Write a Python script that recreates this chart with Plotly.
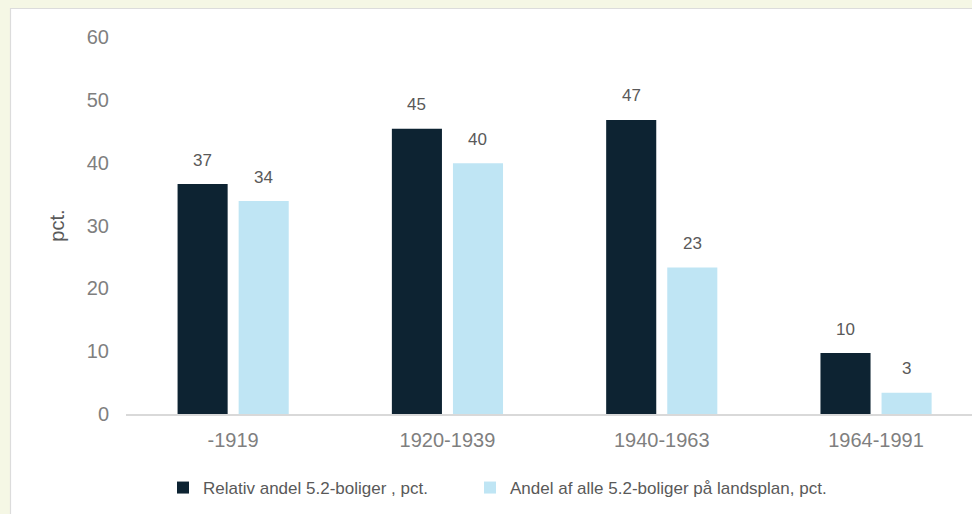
import plotly.graph_objects as go

categories = ["-1919", "1920-1939", "1940-1963", "1964-1991"]
relativ_andel = [36.6, 45.4, 46.8, 9.7]
andel_landsplan = [33.9, 39.9, 23.3, 3.4]
series_names = ["Relativ andel 5.2-boliger , pct.",
                "Andel af alle 5.2-boliger på landsplan, pct."]
y_ticks = [0, 10, 20, 30, 40, 50, 60]

FONT = "Liberation Sans, Arial, sans-serif"
GRAY = "#7F7F7F"
LABEL = "#595959"
COLORS = ["#0D2332", "#BFE5F4"]

W, H = 972, 514
ML, MR, MT, MB = 126, 0, 37, 100
pw, ph = W - ML - MR, H - MT - MB

def px_x(p):
    return (p - ML) / pw

def px_y(p):
    return (H - MB - p) / ph

fig = go.Figure()
series = [relativ_andel, andel_landsplan]
legend_ids = ["legend", "legend2"]
for name, vals, col, lg in zip(series_names, series, COLORS, legend_ids):
    fig.add_trace(go.Bar(
        x=categories, y=vals, name=name, legend=lg,
        marker=dict(color=col, line=dict(width=0)),
        hoverinfo="x+y",
    ))

# data labels above the bars
annotations = []
for k, vals in enumerate(series):
    shift = -30.5 if k == 0 else 30.5
    for idx, v in enumerate(vals):
        annotations.append(dict(
            x=idx, y=v, xref="x", yref="y", text=f"{v:.0f}", showarrow=False,
            xshift=shift, yshift=24, yanchor="middle", xanchor="center",
            font=dict(size=17, color=LABEL, family=FONT),
        ))

legend_common = dict(orientation="h", xanchor="left", y=px_y(488), yanchor="middle",
                     font=dict(size=17, color=LABEL, family=FONT), itemwidth=30,
                     bgcolor="rgba(0,0,0,0)")

fig.update_layout(
    width=W, height=H,
    margin=dict(l=ML, r=MR, t=MT, b=MB),
    paper_bgcolor="#F5F7E5",
    plot_bgcolor="rgba(0,0,0,0)",
    barmode="group", bargap=0.43, bargroupgap=0.18,
    font=dict(family=FONT, color=GRAY, size=20),
    showlegend=True,
    legend=dict(x=px_x(163), **legend_common),
    legend2=dict(x=px_x(470), **legend_common),
    xaxis=dict(range=[-0.5, -0.5 + pw / 214.3], showgrid=False, showline=True,
               linecolor="#D9D9D9", linewidth=1.5, ticks="", tickfont=dict(size=20, color=GRAY),
               ticklabelstandoff=7, fixedrange=True),
    yaxis=dict(range=[0, 60], tickvals=y_ticks, showgrid=False, showline=False, zeroline=False,
               ticks="", tickfont=dict(size=20, color=GRAY), ticklabelstandoff=16,
               title=dict(text="pct.", font=dict(size=20, color=LABEL), standoff=16)),
    annotations=annotations,
    shapes=[dict(type="rect", xref="paper", yref="paper",
                 x0=px_x(10.5), x1=px_x(990), y0=px_y(530), y1=px_y(8.5),
                 fillcolor="white", line=dict(color="#DCDCDC", width=1.2), layer="below")],
)

fig.write_html("out.html", config={"displayModeBar": False},
               post_script="document.body.style.margin='0';document.body.style.overflow='hidden';")
